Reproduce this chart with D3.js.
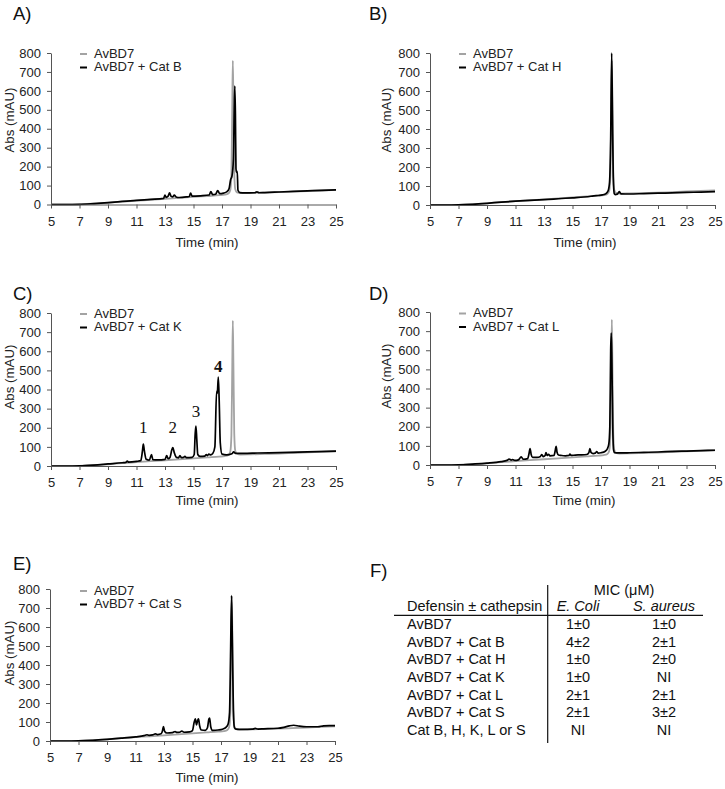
<!DOCTYPE html>
<html>
<head>
<meta charset="utf-8">
<script src="https://cdn.jsdelivr.net/npm/d3@7/dist/d3.min.js"></script>
<style>
  html, body { margin: 0; padding: 0; background: #fff; }
  svg { display: block; font-family: "Liberation Sans", Arial, sans-serif; }
</style>
</head>
<body>
<script>
// ---------------- DATA ----------------
const xTicks = [5, 7, 9, 11, 13, 15, 17, 19, 21, 23, 25];
const yTicks = [0, 100, 200, 300, 400, 500, 600, 700, 800];

// AvBD7 alone (grey trace) [time (min), Abs (mAU)]
const avbd7 = [[5,0],[6,0],[7,1],[8,4],[9,9],[10,15],[11,20],[12,25],[13,30],[14,35],[15,40],[16,45],[16.8,49],[17.2,52],[17.45,58],[17.58,75],[17.66,160],[17.72,520],[17.76,760],[17.8,540],[17.86,170],[17.93,80],[18.05,64],[18.3,60],[19,61],[20,63],[21,65],[22,68],[23,71],[24,74],[25,77]];

// AvBD7 + Cat B
const catB = [[5,0],[6,0],[7,1],[8,5],[9,10],[10,16],[11,22],[12,27],[12.9,32],[13.0,50],[13.08,38],[13.22,44],[13.32,62],[13.42,44],[13.55,40],[13.65,50],[13.78,40],[14,37],[14.5,40],[14.7,42],[14.8,60],[14.9,44],[15.5,46],[16.1,50],[16.22,68],[16.34,52],[16.55,54],[16.7,74],[16.84,57],[17.1,60],[17.35,68],[17.5,85],[17.6,130],[17.7,150],[17.8,240],[17.86,500],[17.9,625],[17.94,480],[17.98,190],[18.02,170],[18.07,175],[18.12,75],[18.25,63],[18.6,61],[19.3,62],[19.45,67],[19.6,62],[20,63],[21,66],[22,69],[23,72],[24,75],[25,77]];

// AvBD7 + Cat H
const catH = [[5,0],[6,0],[7,1],[8,4],[9,9],[10,15],[11,20],[12,24],[13,28],[14,33],[15,38],[15.8,42],[16.3,46],[16.5,48],[16.8,50],[17.1,53],[17.35,60],[17.5,75],[17.6,120],[17.68,350],[17.75,800],[17.8,500],[17.86,150],[17.93,60],[18.0,55],[18.15,57],[18.28,70],[18.4,59],[19,58],[20,60],[21,62],[22,64],[23,66],[24,68],[25,70]];

// AvBD7 + Cat K
const catK = [[5,0],[6,0],[7,1],[8,5],[9,11],[10,17],[10.25,19],[10.35,26],[10.45,20],[11,24],[11.3,28],[11.42,80],[11.48,114],[11.55,80],[11.68,35],[11.9,30],[12.05,60],[12.15,33],[12.5,32],[13.0,35],[13.12,54],[13.22,38],[13.35,45],[13.48,85],[13.55,96],[13.65,70],[13.8,45],[13.95,43],[14.05,55],[14.15,44],[14.3,45],[14.4,50],[14.5,44],[14.9,45],[15.05,60],[15.12,170],[15.17,209],[15.23,140],[15.3,60],[15.45,50],[15.8,52],[15.9,60],[15.98,54],[16.08,62],[16.2,58],[16.35,65],[16.5,100],[16.62,390],[16.67,380],[16.74,465],[16.8,350],[16.88,120],[17.0,62],[17.3,58],[17.7,64],[17.82,74],[17.95,66],[18.5,66],[19.5,68],[21,70],[23,74],[25,78]];

// AvBD7 + Cat L
const catL = [[5,0],[6,0],[7,1],[8,5],[9,10],[10,18],[10.4,24],[10.55,31],[10.7,26],[10.8,28],[10.95,24],[11.2,27],[11.4,42],[11.55,30],[11.85,33],[11.95,60],[12.02,86],[12.1,55],[12.2,40],[12.5,40],[12.75,45],[12.85,55],[12.95,44],[13.08,50],[13.14,65],[13.22,50],[13.32,56],[13.42,48],[13.7,50],[13.8,80],[13.85,98],[13.92,65],[14.02,52],[14.2,50],[14.5,48],[14.75,50],[14.82,57],[14.9,50],[15.2,52],[15.5,53],[16.0,55],[16.15,65],[16.22,86],[16.3,66],[16.45,60],[16.6,62],[16.7,70],[16.8,62],[17.0,64],[17.3,72],[17.45,85],[17.55,110],[17.62,200],[17.68,600],[17.72,690],[17.76,560],[17.82,220],[17.88,80],[17.95,64],[18.2,63],[19,64],[20,66],[21,68],[22,71],[23,73],[24,75],[25,77]];

// AvBD7 + Cat S
const catS = [[5,0],[6,0],[7,1],[8,4],[9,9],[10,15],[11,22],[11.6,28],[11.8,33],[11.95,30],[12.2,32],[12.4,38],[12.55,34],[12.8,38],[12.9,55],[12.96,76],[13.05,50],[13.2,42],[13.6,44],[13.78,50],[13.9,45],[14.1,46],[14.25,52],[14.4,46],[14.8,48],[15.0,55],[15.12,100],[15.2,116],[15.28,85],[15.35,105],[15.42,116],[15.5,80],[15.62,58],[15.9,56],[16.05,70],[16.15,115],[16.2,120],[16.28,75],[16.4,56],[16.8,58],[17.1,62],[17.35,72],[17.5,90],[17.6,150],[17.67,450],[17.74,765],[17.8,500],[17.87,160],[17.94,70],[18.05,62],[18.5,61],[19.2,62],[19.4,66],[19.6,63],[20,64],[21,67],[21.4,72],[21.8,80],[22.1,83],[22.5,78],[23,75],[23.8,75],[24.2,80],[24.6,81],[25,81]];

// peak labels in panel C
const peakLabels = ["1", "2", "3", "4"];
const peakTimes = [11.48, 13.54, 15.17, 16.74];
const peakLabelValues = [205, 205, 290, 525];

// table F
const tableHeader = ["Defensin ± cathepsin", "E. Coli", "S. aureus"];
const tableRows = ["AvBD7", "AvBD7 + Cat B", "AvBD7 + Cat H", "AvBD7 + Cat K", "AvBD7 + Cat L", "AvBD7 + Cat S", "Cat B, H, K, L or S"];
const micEcoli = ["1±0", "4±2", "1±0", "1±0", "2±1", "2±1", "NI"];
const micSaureus = ["1±0", "2±1", "2±0", "NI", "2±1", "3±2", "NI"];

// ---------------- DRAW ----------------
const W = 725, H = 789;
const svg = d3.select("body").append("svg").attr("width", W).attr("height", H);
svg.append("rect").attr("width", W).attr("height", H).attr("fill", "#fff");

const GREY = "#a3a3a3", BLACK = "#000";

const panels = [
  { tag: "A)", tagX: 13, tagY: 13, xr: [51, 336], yr: [204.5, 53], data: catB, name: "AvBD7 + Cat B", legX: 80, legY: 53, axLabX: 9, axLabY: 120, timeX: 207, timeY: 242 },
  { tag: "B)", tagX: 369, tagY: 13, xr: [430, 715], yr: [205, 53], data: catH, name: "AvBD7 + Cat H", legX: 459, legY: 53, axLabX: 386, axLabY: 120, timeX: 585, timeY: 242 },
  { tag: "C)", tagX: 13, tagY: 293, xr: [51, 336], yr: [466, 313], data: catK, name: "AvBD7 + Cat K", legX: 80, legY: 313, axLabX: 9, axLabY: 377, timeX: 207, timeY: 500 },
  { tag: "D)", tagX: 369, tagY: 293, xr: [430, 715], yr: [465, 312], data: catL, name: "AvBD7 + Cat L", legX: 459, legY: 312.5, axLabX: 386, axLabY: 376, timeX: 584, timeY: 500 },
  { tag: "E)", tagX: 13, tagY: 563, xr: [50, 335], yr: [741, 589], data: catS, name: "AvBD7 + Cat S", legX: 80, legY: 590, axLabX: 9, axLabY: 653, timeX: 207, timeY: 777 }
];

panels.forEach((p, i) => {
  const x = d3.scaleLinear().domain([5, 25]).range(p.xr);
  const y = d3.scaleLinear().domain([0, 800]).range(p.yr);
  const g = svg.append("g");

  g.append("text").attr("x", p.tagX).attr("y", p.tagY).attr("dy", "0.36em")
    .attr("font-size", 18.5).attr("fill", "#111").text(p.tag);

  const line = d3.line().x(d => x(d[0])).y(d => y(d[1])).curve(d3.curveMonotoneX);

  g.append("path").datum(avbd7).attr("d", line).attr("fill", "none")
    .attr("stroke", GREY).attr("stroke-width", 1.8).attr("stroke-linejoin", "round");
  g.append("path").datum(p.data).attr("d", line).attr("fill", "none")
    .attr("stroke", BLACK).attr("stroke-width", 1.7).attr("stroke-linejoin", "round");

  const xa = g.append("g").attr("transform", `translate(0,${p.yr[0]})`)
    .call(d3.axisBottom(x).tickValues(xTicks).tickSize(4).tickSizeOuter(0).tickPadding(8).tickFormat(d3.format("d")));
  const ya = g.append("g").attr("transform", `translate(${p.xr[0]},0)`)
    .call(d3.axisLeft(y).tickValues(yTicks).tickSize(4).tickSizeOuter(0).tickPadding(6).tickFormat(d3.format("d")));
  [xa, ya].forEach(a => {
    a.select(".domain").attr("stroke", "#555").attr("stroke-width", 1);
    a.selectAll(".tick line").attr("stroke", "#555");
    a.selectAll(".tick text").attr("font-size", 13).attr("fill", "#222")
      .attr("font-family", "'Liberation Sans', Arial, sans-serif");
  });

  g.append("text").attr("x", p.timeX).attr("y", p.timeY).attr("dy", "0.36em")
    .attr("text-anchor", "middle").attr("font-size", 13.3).attr("fill", "#222").text("Time (min)");
  g.append("text").attr("transform", `translate(${p.axLabX},${p.axLabY}) rotate(-90)`)
    .attr("dy", "0.36em").attr("text-anchor", "middle").attr("font-size", 13.3).attr("fill", "#222").text("Abs (mAU)");

  // legend
  const leg = [{ n: "AvBD7", c: GREY }, { n: p.name, c: BLACK }];
  leg.forEach((l, k) => {
    const ly = p.legY + k * 13.5;
    g.append("line").attr("x1", p.legX).attr("x2", p.legX + 7).attr("y1", ly + 1).attr("y2", ly + 1)
      .attr("stroke", l.c).attr("stroke-width", 2);
    g.append("text").attr("x", p.legX + 14).attr("y", ly).attr("dy", "0.36em")
      .attr("font-size", 13).attr("fill", "#222").text(l.n);
  });

  if (p.tag === "C)") {
    peakLabels.forEach((t, k) => {
      g.append("text").attr("x", x(peakTimes[k])).attr("y", y(peakLabelValues[k])).attr("dy", "0.36em")
        .attr("text-anchor", "middle").attr("font-family", "'Liberation Serif', 'Times New Roman', serif")
        .attr("font-size", 17).attr("font-weight", k === 3 ? "bold" : "normal").attr("fill", "#111").text(t);
    });
  }
});

// ---------------- TABLE F ----------------
const tg = svg.append("g").attr("font-size", 14.5).attr("fill", "#111");
tg.append("text").attr("x", 370).attr("y", 570).attr("dy", "0.36em").attr("font-size", 18.5).text("F)");
const colX = [407, 578, 664];
const rowY0 = 624, rowStep = 17.6;
tg.append("line").attr("x1", 547.7).attr("x2", 547.7).attr("y1", 585).attr("y2", 743).attr("stroke", "#111").attr("stroke-width", 1.2);
tg.append("line").attr("x1", 394).attr("x2", 703).attr("y1", 615.3).attr("y2", 615.3).attr("stroke", "#111").attr("stroke-width", 1.2);
tg.append("text").attr("x", 624).attr("y", 589.5).attr("dy", "0.36em").attr("text-anchor", "middle").text("MIC (μM)");
tg.append("text").attr("x", colX[0]).attr("y", 606).attr("dy", "0.36em").text(tableHeader[0]);
tg.append("text").attr("x", colX[1]).attr("y", 606).attr("dy", "0.36em").attr("text-anchor", "middle").attr("font-style", "italic").text(tableHeader[1]);
tg.append("text").attr("x", colX[2]).attr("y", 606).attr("dy", "0.36em").attr("text-anchor", "middle").attr("font-style", "italic").text(tableHeader[2]);
tableRows.forEach((r, i) => {
  const yy = rowY0 + i * rowStep;
  tg.append("text").attr("x", colX[0]).attr("y", yy).attr("dy", "0.36em").text(r);
  tg.append("text").attr("x", colX[1]).attr("y", yy).attr("dy", "0.36em").attr("text-anchor", "middle").text(micEcoli[i]);
  tg.append("text").attr("x", colX[2]).attr("y", yy).attr("dy", "0.36em").attr("text-anchor", "middle").text(micSaureus[i]);
});
</script>
</body>
</html>
